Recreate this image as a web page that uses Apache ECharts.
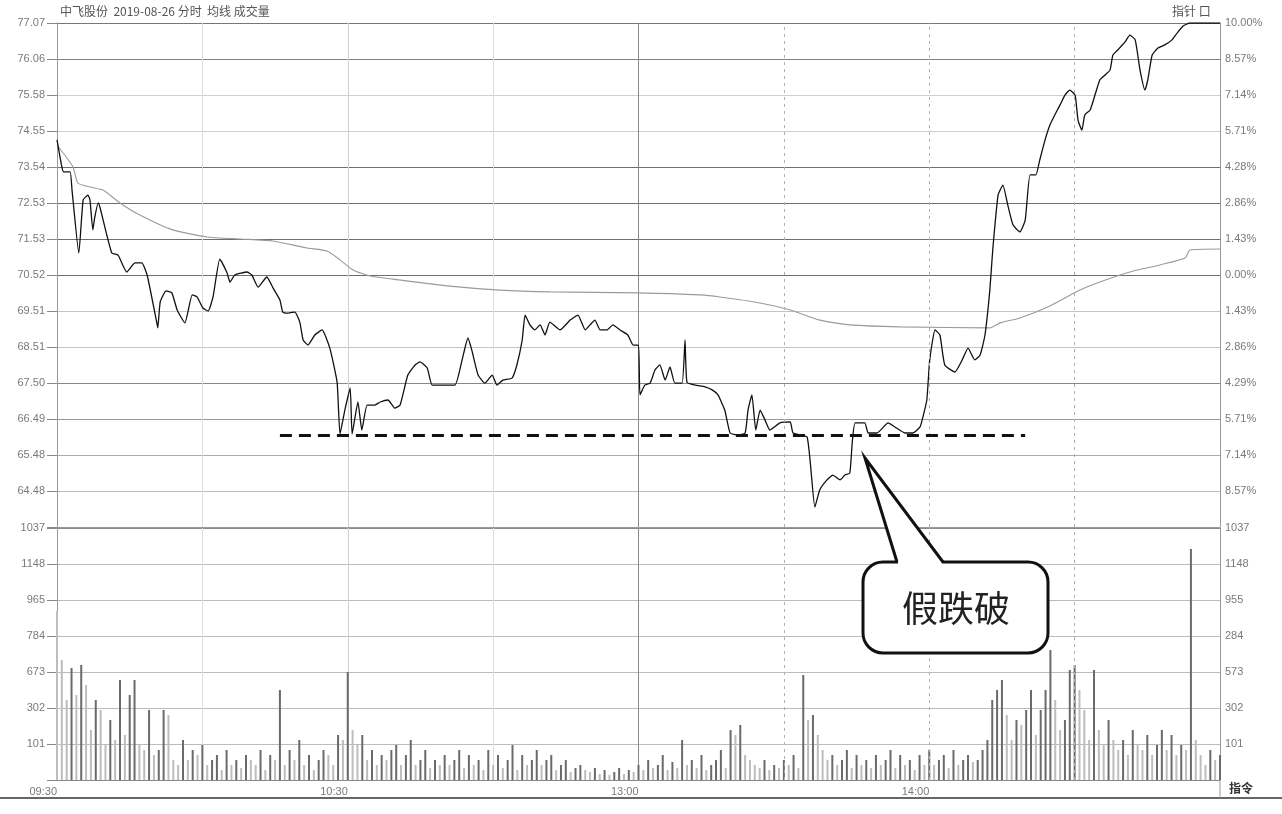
<!DOCTYPE html>
<html>
<head>
<meta charset="utf-8">
<script src="https://cdn.jsdelivr.net/npm/echarts@6/dist/echarts.min.js"></script>
<style>html,body{margin:0;padding:0;background:#fff}#c{width:1282px;height:814px}</style>
</head>
<body>
<div id="c"></div>
<script>
// ---- data ----
const titleText = '中飞股份  2019-08-26 分时  均线 成交量';
const priceTickLabels = ['77.07','76.06','75.58','74.55','73.54','72.53','71.53','70.52','69.51','68.51','67.50','66.49','65.48','64.48']; // top -> bottom
const pctTickLabels = ['10.00%','8.57%','7.14%','5.71%','4.28%','2.86%','1.43%','0.00%','1.43%','2.86%','4.29%','5.71%','7.14%','8.57%'];
const volTickLabelsLeft = ['1037','1148','965','784','673','302','101'];  // top -> bottom
const volTickLabelsRight = ['1037','1148','955','284','573','302','101'];
const timeTickMinutes = [0, 60, 120, 180];
const timeTickLabels = ['09:30', '10:30', '13:00', '14:00'];

// price line (minute index, % change)
const priceMin = [0,1,1.4,2.7,3.1,4.5,5.4,6.4,6.8,7.4,7.8,8.5,8.9,11.3,12.6,14.4,16.1,17.5,18.6,20.6,20.8,21.3,22.5,23.7,24.8,26.4,27.9,28.9,30.1,31.2,32.2,33.6,35.1,35.7,36.7,39.2,40.2,41.5,43.3,44.6,46.0,46.6,47.7,49.1,50.1,50.8,51.8,53.2,54.7,56.3,57.8,58.4,59.4,60.5,60.9,62.1,62.9,64.0,65.6,66.7,68.3,69.7,70.8,72.4,73.9,74.9,76.4,77.4,79.0,82.1,83.6,84.8,85.6,86.9,88.3,89.8,90.8,92.0,93.9,94.9,96.0,96.6,97.6,98.6,99.7,100.7,101.7,103.8,105.9,107.5,109.0,110.0,111.0,112.1,113.5,114.7,116.2,117.8,118.9,120,120.3,121.3,122.4,123.4,124.4,125.5,126.5,127.5,129.0,129.6,130.0,131.7,133.7,135.2,136.4,137.8,138.9,140.5,142.0,142.6,143.4,144.2,145.1,146.1,147.1,149.2,151.3,151.9,154.8,156.4,157.4,158.9,160.1,161.6,162.6,163.6,164.1,164.7,166.7,167.4,169.2,171.5,172.9,175.0,176.6,178.1,178.7,179.5,180.1,181.2,182.2,183.2,185.3,186.8,188.0,189.4,190.5,191.5,192.5,193.1,194.2,195.2,196.2,197.3,198.7,199.8,200.8,202.0,202.8,203.9,204.9,205.9,207.0,208.0,209.0,210.1,210.7,211.5,212.1,213.2,214.2,215.2,216.3,217.3,217.9,218.9,220.4,221.4,222.5,223.5,224.5,225.1,226.0,227.2,228.6,230.1,231.3,232.4,233.8,240];
const pricePct = [5.36,4.29,4.09,4.09,3.37,0.87,2.98,3.17,2.98,1.79,2.30,2.86,2.66,0.87,0.79,0.12,0.48,0.48,0,-1.90,-2.10,-1.07,-0.63,-0.71,-1.39,-1.90,-0.79,-0.87,-1.31,-1.43,-0.87,0.63,0.08,-0.28,0,0.12,0,-0.48,-0.08,-0.52,-0.99,-1.47,-1.51,-1.47,-1.87,-2.58,-2.78,-2.38,-2.18,-2.90,-4.25,-6.31,-5.36,-4.48,-6.31,-5.04,-6.15,-5.16,-5.16,-5.04,-4.96,-5.28,-5.16,-3.97,-3.57,-3.45,-3.69,-4.37,-4.37,-4.37,-3.37,-2.50,-2.98,-3.97,-4.29,-3.97,-4.37,-4.17,-4.09,-3.57,-2.58,-1.59,-1.98,-2.18,-1.98,-2.38,-1.87,-2.18,-1.79,-1.59,-2.18,-1.98,-1.79,-2.18,-2.18,-1.98,-2.18,-2.38,-2.78,-2.78,-4.76,-4.37,-4.29,-3.77,-3.57,-4.17,-3.65,-4.29,-4.29,-2.58,-4.25,-4.37,-4.44,-4.56,-4.76,-5.36,-6.27,-6.35,-6.27,-5.36,-4.76,-6.15,-5.36,-5.75,-6.15,-5.87,-5.83,-6.27,-6.43,-9.21,-8.53,-8.13,-7.94,-8.13,-7.94,-7.86,-6.67,-5.87,-5.87,-6.27,-6.27,-5.87,-6.03,-6.27,-6.27,-6.03,-5.63,-4.96,-3.37,-2.18,-2.38,-3.57,-3.85,-3.37,-2.90,-3.37,-3.17,-2.38,-0.60,0.99,3.17,3.57,2.78,1.98,1.71,2.18,3.97,3.97,4.56,5.36,5.95,6.35,6.75,7.14,7.34,7.14,6.15,5.75,6.35,6.55,7.14,7.74,7.94,8.13,8.73,8.93,9.25,9.52,9.33,8.13,7.34,7.74,8.73,9.01,9.13,9.33,9.64,9.88,10.0,10.0];

// average price line
const avgMin = [0,3.3,4.3,6.8,9.5,13.0,17.1,23.9,31.0,37.8,44.6,51.6,55.7,58.4,61.1,64.6,70.8,81.1,91.4,101.7,120,132.7,136.8,145.1,151.3,157.4,163.6,174.0,192.5,194.6,198.7,204.9,211.1,215.2,221.4,227.6,232.8,233.8,240];
const avgPct = [5.16,4.29,3.65,3.49,3.37,2.86,2.38,1.79,1.51,1.43,1.35,1.07,0.95,0.60,0.20,-0.04,-0.20,-0.44,-0.60,-0.67,-0.71,-0.79,-0.87,-1.11,-1.39,-1.79,-1.98,-2.06,-2.10,-1.90,-1.71,-1.23,-0.60,-0.28,0.12,0.40,0.67,0.99,1.03];

// support level (dashed) and its span in minutes
const supportPct = -6.35;
const supportSpan = [46, 199.8];
const dashedTimes = [150, 180, 210];

// volume per minute (axis units)
const volume = [
169,120,80,112,85,115,95,50,80,70,
35,60,40,100,45,85,100,36,30,70,
25,30,70,65,20,15,40,20,30,25,
35,15,20,25,10,30,15,20,12,25,
20,15,30,10,25,20,90,15,30,20,
40,15,25,10,20,30,25,15,45,40,
108,50,35,45,20,30,15,25,20,30,
35,15,25,40,15,20,30,12,20,15,
25,15,20,30,12,25,15,20,10,30,
15,25,12,20,35,10,25,15,20,30,
15,20,25,10,15,20,8,12,15,10,
8,12,6,10,5,8,12,6,10,8,
15,10,20,12,15,25,10,18,12,40,
15,20,12,25,10,15,20,30,12,50,
45,55,25,20,15,12,20,10,15,12,
20,15,25,12,105,60,65,45,30,20,
25,15,20,30,12,25,15,20,12,25,
15,20,30,12,25,15,20,10,25,15,
30,15,20,25,12,30,15,20,25,18,
20,30,40,80,90,100,65,40,60,55,
70,90,45,70,90,130,80,50,60,110,
115,90,70,40,110,50,35,60,40,30,
40,25,50,35,30,45,25,35,50,30,
45,25,35,30,231,40,25,15,30,20,
25];

const calloutText = '假跌破';

// ---- chart ----
const chart = echarts.init(document.getElementById('c'), null, {renderer: 'canvas'});
const labelFont = {fontFamily: 'Liberation Sans', fontSize: 11, color: '#7a7a7a'};
const step = 10 / 7;
function pctIndex(v) { return Math.round((v + 10) / step); } // 0 = bottom
const pctGridColors = ['#999','#bbb','#aaa','#999','#888','#c4c4c4','#c4c4c4','#6e6e6e','#6e6e6e','#6e6e6e','#6e6e6e','#cfcfcf','#cfcfcf','#808080','#777'];
const timeGridColors = ['rgba(0,0,0,0)','#dedede','#cfcfcf','#dedede','#8a8a8a','rgba(0,0,0,0)','rgba(0,0,0,0)','rgba(0,0,0,0)','rgba(0,0,0,0)'];

function xAxisDef(gridIndex, labels) {
  return {
    gridIndex: gridIndex, type: 'value', min: 0, max: 240, interval: 30,
    axisLine: {show: false}, axisTick: {show: false},
    splitLine: {show: true, lineStyle: {color: timeGridColors, width: 1}},
    axisLabel: labels ? Object.assign({}, labelFont, {
      show: true, margin: 6, align: 'right',
      formatter: function (v) { const k = timeTickMinutes.indexOf(Math.round(v)); return k >= 0 ? timeTickLabels[k] : ''; }
    }) : {show: false}
  };
}

const option = {
  animation: false,
  backgroundColor: '#fff',
  grid: [
    {left: 57, right: 62, top: 23, height: 504},
    {left: 57, right: 62, top: 528, height: 252}
  ],
  xAxis: [xAxisDef(0, false), xAxisDef(1, true)],
  yAxis: [
    {gridIndex: 0, type: 'value', position: 'left', min: -10, max: 10, interval: step,
      axisLine: {show: true, lineStyle: {color: '#999'}},
      axisTick: {show: true, length: 10, lineStyle: {color: '#888'}},
      axisLabel: Object.assign({}, labelFont, {margin: 12, formatter: function (v) { const i = pctIndex(v); return i === 0 ? '' : priceTickLabels[14 - i]; }}),
      splitLine: {show: true, lineStyle: {color: pctGridColors, width: 1}}},
    {gridIndex: 0, type: 'value', position: 'right', min: -10, max: 10, interval: step,
      axisLine: {show: true, lineStyle: {color: '#999'}},
      axisTick: {show: false},
      axisLabel: Object.assign({}, labelFont, {margin: 5, formatter: function (v) { const i = pctIndex(v); return i === 0 ? '' : pctTickLabels[14 - i]; }}),
      splitLine: {show: false}},
    {gridIndex: 1, type: 'value', position: 'left', min: 0, max: 252, interval: 36,
      axisLine: {show: true, lineStyle: {color: '#999'}},
      axisTick: {show: true, length: 10, lineStyle: {color: '#888'}},
      axisLabel: Object.assign({}, labelFont, {margin: 12, formatter: function (v) { const i = Math.round(v / 36); return i === 0 ? '' : volTickLabelsLeft[7 - i]; }}),
      splitLine: {show: true, lineStyle: {color: ['#888','#bbb','#bbb','#bbb','#bbb','#bbb','#bbb','#8a8a8a'], width: 1}}},
    {gridIndex: 1, type: 'value', position: 'right', min: 0, max: 252, interval: 36,
      axisLine: {show: true, lineStyle: {color: '#999'}},
      axisTick: {show: false},
      axisLabel: Object.assign({}, labelFont, {margin: 5, formatter: function (v) { const i = Math.round(v / 36); return i === 0 ? '' : volTickLabelsRight[7 - i]; }}),
      splitLine: {show: false}}
  ],
  series: [
    {
      name: '均价', type: 'line', xAxisIndex: 0, yAxisIndex: 0,
      data: avgMin.map((m, i) => [m, avgPct[i]]),
      showSymbol: false, smooth: 0.2,
      lineStyle: {color: '#9a9a9a', width: 1.1}, z: 3,
      markLine: {
        silent: true, symbol: 'none', label: {show: false},
        lineStyle: {type: [3, 4], color: '#b0b0b0', width: 1},
        data: dashedTimes.map(t => ({xAxis: t}))
      }
    },
    {
      name: '价格', type: 'line', xAxisIndex: 0, yAxisIndex: 0,
      data: priceMin.map((m, i) => [m, pricePct[i]]),
      showSymbol: false, smooth: 0.15,
      lineStyle: {color: '#111', width: 1.3}, z: 4,
      markLine: {
        silent: true, symbol: 'none', label: {show: false},
        lineStyle: {type: [12, 7], color: '#111', width: 3},
        data: [[{coord: [supportSpan[0], supportPct]}, {coord: [supportSpan[1], supportPct]}]]
      }
    },
    {
      name: '成交量', type: 'bar', xAxisIndex: 1, yAxisIndex: 2,
      barWidth: 2,
      data: volume.map((v, i) => ({value: [i, v], itemStyle: {color: (i > 0 && v > volume[i - 1]) ? '#6a6a6a' : '#bdbdbd'}})),
      markLine: {
        silent: true, symbol: 'none', label: {show: false},
        lineStyle: {type: [3, 4], color: '#b0b0b0', width: 1},
        data: dashedTimes.map(t => ({xAxis: t}))
      }
    }
  ],
  graphic: [
    {type: 'text', x: 60, y: 5, style: {text: titleText, fontSize: 12, fill: '#555', fontFamily: 'Noto Sans CJK SC'}},
    {type: 'text', x: 1172, y: 5, style: {text: '指针 口', fontSize: 12, fill: '#555', fontFamily: 'Noto Sans CJK SC'}},
    {type: 'text', x: 1229, y: 782, style: {text: '指令', fontSize: 12, fontWeight: 'bold', fill: '#333', fontFamily: 'Noto Sans CJK SC'}},
    {type: 'line', shape: {x1: 0, y1: 798, x2: 1282, y2: 798}, style: {stroke: '#666', lineWidth: 2}},
    {type: 'line', shape: {x1: 1220, y1: 780, x2: 1220, y2: 798}, style: {stroke: '#999', lineWidth: 1}},
    {type: 'rect', z: 100, shape: {x: 863, y: 562, width: 185, height: 91, r: 20},
      style: {fill: '#fff', stroke: '#111', lineWidth: 3}},
    {type: 'polygon', z: 101, shape: {points: [[898, 566], [898, 562], [865, 458], [942, 562], [942, 566]]},
      style: {fill: '#fff', stroke: null}},
    {type: 'polyline', z: 102, shape: {points: [[897, 562], [865, 458], [943, 562]]},
      style: {fill: null, stroke: '#111', lineWidth: 3, lineJoin: 'miter'}},
    {type: 'text', z: 103, x: 902, y: 590, style: {text: calloutText, fontSize: 36, fill: '#222', fontFamily: 'Noto Sans CJK SC'}}
  ]
};
chart.setOption(option);
</script>
</body>
</html>
